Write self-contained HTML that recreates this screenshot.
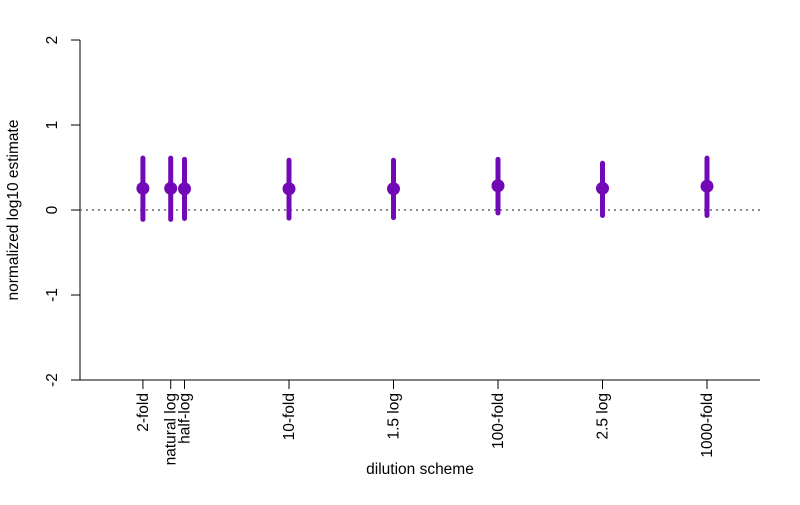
<!DOCTYPE html>
<html><head><meta charset="utf-8"><style>
body{margin:0;background:#fff}
svg{font-family:"Liberation Sans",Arial,sans-serif}
</style></head><body>
<svg id="chart" width="800" height="500" xmlns="http://www.w3.org/2000/svg">
<g id="axes"></g>
<g id="marks"></g>
<text transform="translate(18,210) rotate(-90)" text-anchor="middle" font-size="15.5">normalized log10 estimate</text>
<text x="420" y="474" text-anchor="middle" font-size="15.5">dilution scheme</text>
</svg>
<script>
const categories=["2-fold","natural log","half-log","10-fold","1.5 log","100-fold","2.5 log","1000-fold"];
const positions=[0.301,0.434,0.5,1,1.5,2,2.5,3];
const estimates=[0.255,0.255,0.25,0.25,0.25,0.285,0.255,0.28];
const upper=[0.61,0.61,0.595,0.585,0.585,0.595,0.55,0.61];
const lower=[-0.11,-0.11,-0.10,-0.095,-0.09,-0.035,-0.065,-0.065];
const yTicks=[-2,-1,0,1,2];
const NS="http://www.w3.org/2000/svg";
const xs=v=>289+(v-1)*209;
const ys=v=>210-v*85;
function mk(tag,attrs,parent){const e=document.createElementNS(NS,tag);for(const k in attrs)e.setAttribute(k,attrs[k]);parent.appendChild(e);return e;}
const ax=document.getElementById('axes'),mg=document.getElementById('marks');
let l=mk('line',{x1:80,y1:ys(2),x2:80,y2:ys(-2),stroke:'#000'},ax);


yTicks.forEach(t=>{
 let tk=mk('line',{x1:71,x2:80,y1:ys(t),y2:ys(t),stroke:'#000'},ax);
 
 
 let tx=mk('text',{transform:`translate(57,${ys(t)}) rotate(-90)`,'text-anchor':'middle','font-size':15.5},ax);
 tx.textContent=t;
 
 
});
l=mk('line',{x1:80,x2:760,y1:380,y2:380,stroke:'#000'},ax);


l=mk('line',{x1:80,x2:760,y1:ys(0),y2:ys(0),stroke:'#666','stroke-width':1.5,'stroke-dasharray':'2,4'},ax);


categories.forEach((c,i)=>{
 const x=xs(positions[i]);
 let tk=mk('line',{x1:x,x2:x,y1:380,y2:389,stroke:'#000'},ax);
 
 
 let tx=mk('text',{transform:`translate(${x+5},393) rotate(-90)`,'text-anchor':'end','font-size':15.5},ax);
 tx.textContent=c;
 
 
 let eb=mk('line',{x1:x,x2:x,y1:ys(upper[i]),y2:ys(lower[i]),stroke:'#7209b7','stroke-width':5,'stroke-linecap':'round'},mg);
 
 
 let p=mk('circle',{cx:x,cy:ys(estimates[i]),r:6.5,fill:'#7209b7'},mg);
 
 
});
</script>
</body></html>
